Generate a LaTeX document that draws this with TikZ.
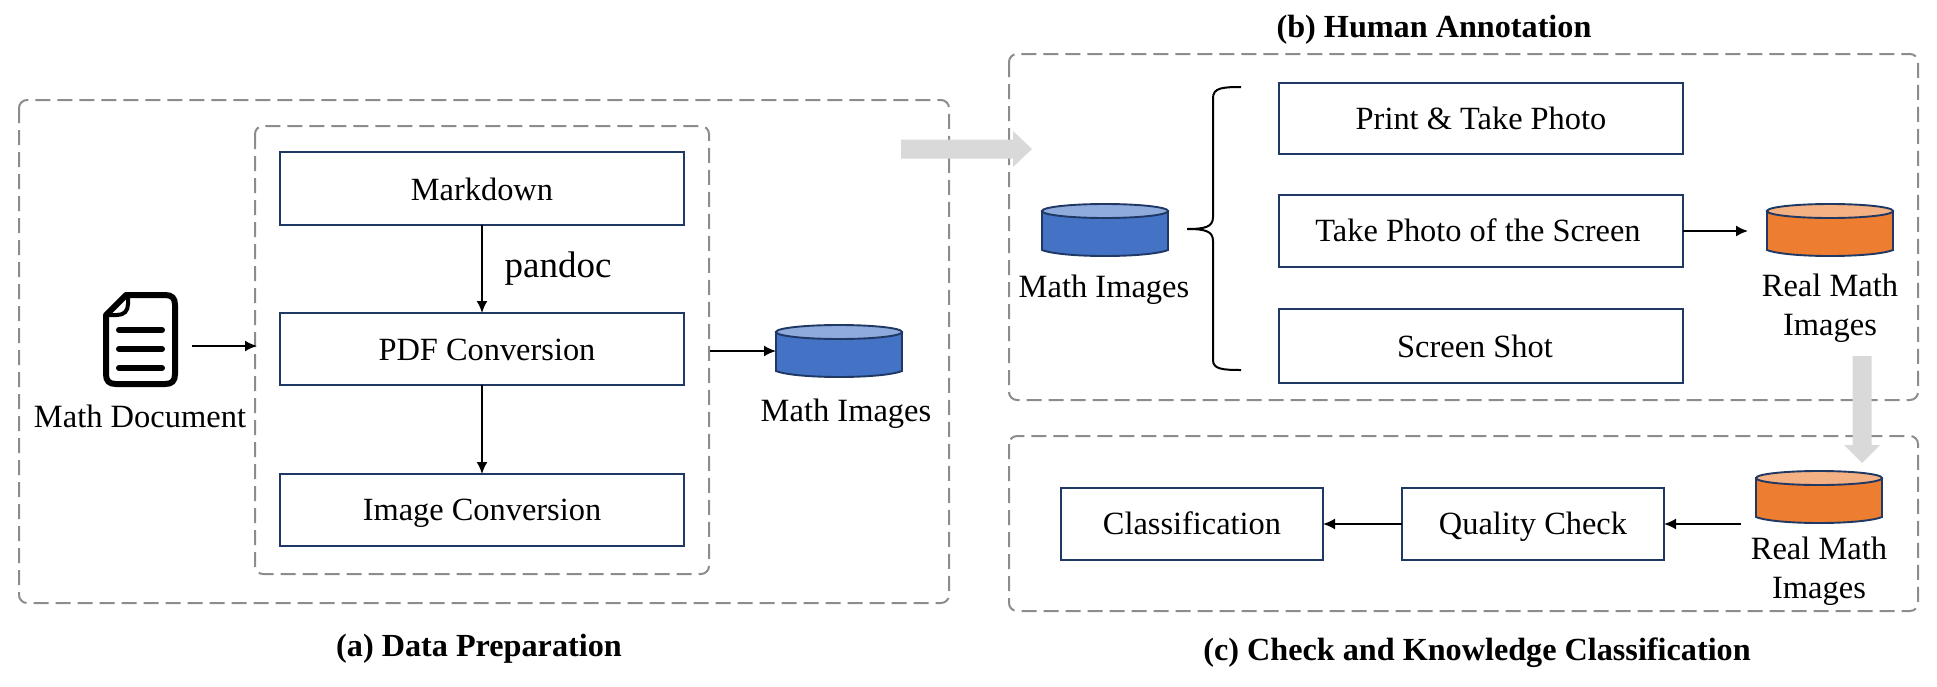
\documentclass[tikz,border=0pt]{standalone}
\usepackage{fontspec}
\setmainfont{Liberation Serif}
\usetikzlibrary{arrows.meta,shapes.arrows,calc}
\definecolor{boxblue}{HTML}{1F3864}
\definecolor{dashgray}{HTML}{8C8C8C}
\definecolor{arrowgray}{HTML}{D9D9D9}
\definecolor{dbblue}{HTML}{4472C4}
\definecolor{dbbluetop}{HTML}{8FAADC}
\definecolor{dborange}{HTML}{ED7D31}
\definecolor{dborangetop}{HTML}{F4B183}
\tikzset{
  x=1pt,y=-1pt,
  group/.style={draw=dashgray,line width=2pt,rounded corners=8pt,dash pattern=on 15pt off 7pt},
  stepbox/.style={draw=boxblue,line width=1.9pt,fill=white,inner sep=0pt,outer sep=0pt,text height=21pt,text depth=0pt,font=\fontsize{32.4}{37}\selectfont},
  lab/.style={font=\fontsize{32.5}{39}\selectfont,align=center,inner sep=0pt},
  ttl/.style={font=\fontsize{32.2}{37}\selectfont\bfseries,inner sep=0pt},
  flow/.style={draw=black,line width=1.7pt,-{Latex[length=12pt,width=11pt]}},
}
\newcommand{\stepat}[6]{% name, x1,y1,x2,y2,text
  \node[stepbox,minimum width=#4pt-#2pt,minimum height=#5pt-#3pt,anchor=north west] (#1) at (#2,#3) {#6};}
\newcommand{\dbase}[5]{% name,x1,y1,fill,top
  \draw[boxblue,line width=1.9pt,fill=#4] (#2,#3+8) -- ++(0,39) .. controls (#2+20,#3+55) and (#2+106,#3+55) .. (#2+126,#3+47) -- (#2+126,#3+8) -- cycle;
  \draw[boxblue,line width=1.9pt,fill=#5] (#2+63,#3+8) ellipse[x radius=63,y radius=7];
  \coordinate (#1w) at (#2,#3+27);
  \coordinate (#1e) at (#2+126,#3+27);
}
\begin{document}
\begin{tikzpicture}
\useasboundingbox (0,0) rectangle (1937,686);
% groups
\draw[group] (19,100) rectangle (949,603);
\draw[group] (255,126) rectangle (709,574);
\draw[group] (1009,54) rectangle (1918,400);
\draw[group] (1009,436) rectangle (1918,611);
% gray arrows
\fill[arrowgray] (901,139.5) -- (1013,139.5) -- (1013,131) -- (1032,149) -- (1013,167) -- (1013,158.5) -- (901,158.5) -- cycle;
\fill[arrowgray] (1852.5,356) -- (1871.5,356) -- (1871.5,445) -- (1880,445) -- (1862,463) -- (1844,445) -- (1852.5,445) -- cycle;
% boxes
\stepat{md}{280}{152}{684}{225}{\raisebox{-1.2pt}{Markdown}}
\stepat{pdf}{280}{313}{684}{385}{\hspace*{10pt}\raisebox{-1.2pt}{PDF Conversion}}
\stepat{img}{280}{474}{684}{546}{Image Conversion}
\stepat{photo}{1279}{83}{1683}{154}{Print \& Take Photo}
\stepat{screen}{1279}{195}{1683}{267}{Take Photo of the Screen\hspace*{6pt}}
\stepat{shot}{1279}{309}{1683}{383}{\raisebox{-1pt}{Screen Shot}\hspace*{12pt}}
\stepat{qc}{1402}{488}{1664}{560}{Quality Check}
\stepat{cls}{1061}{488}{1323}{560}{Classification}
% cylinders
\dbase{dba}{776}{324}{dbblue}{dbbluetop}
\dbase{dbb}{1042}{203}{dbblue}{dbbluetop}
\dbase{dbc}{1767}{203}{dborange}{dborangetop}
\dbase{dbd}{1756}{470}{dborange}{dborangetop}
% labels
\node[lab] (lmathdoc) at (140,416) {Math Document};
\node[lab] (lpandoc) at (558,269) {\fontsize{37}{40}\selectfont pandoc};
\node[lab] (lma) at (846,414) {Math Images};
\node[lab] (lmb) at (1104,290) {Math Images};
\node[lab] (lrc) at (1830,308) {Real Math\\Images};
\node[lab] (lrd) at (1819,571) {Real Math\\Images};
\node[ttl] (ta) at (479,648.5) {(a) Data Preparation};
\node[ttl] (tb) at (1434,29.5) {(b) Human Annotation};
\node[ttl] (tc) at (1477,652.5) {(c) Check and Knowledge Classification};
% document icon
\draw[black,line width=6pt,line join=round] (126,295) -- (165,295) .. controls (172,295) and (175,298) .. (175,305) -- (175,374) .. controls (175,381) and (172,384) .. (165,384) -- (116,384) .. controls (109,384) and (106,381) .. (106,374) -- (106,315) -- cycle;
\draw[black,line width=4pt,line join=round] (106,315) -- (117,315) .. controls (124,315) and (128,311) .. (128,304) -- (128,295);
\draw[black,line width=6pt,line cap=round] (119,330) -- (162,330) (119,349) -- (162,349) (119,368) -- (162,368);
% connectors
\coordinate (docout) at (192,346);
\coordinate (innerin) at (257,346);
\coordinate (innerout) at (710,351);
\coordinate (scout) at (1748,231);
\coordinate (ddout) at (1741,524);
\draw[flow] (md.south) -- (pdf.north);
\draw[flow] (pdf.south) -- (img.north);
\draw[flow] (docout) -- (innerin);
\draw[flow] (innerout) -- (dbaw);
\draw[flow] (screen.east) -- (scout);
\draw[flow] (ddout) -- (qc.east);
\draw[flow] (qc.west) -- (cls.east);
% brace
\draw[black,line width=2pt] (1241,87) .. controls (1222,87) and (1213,88) .. (1213,98) -- (1213,217) .. controls (1213,227) and (1205,229) .. (1187,229) .. controls (1205,229) and (1213,231) .. (1213,241) -- (1213,360) .. controls (1213,369) and (1222,370) .. (1241,370);
\end{tikzpicture}
\end{document}
